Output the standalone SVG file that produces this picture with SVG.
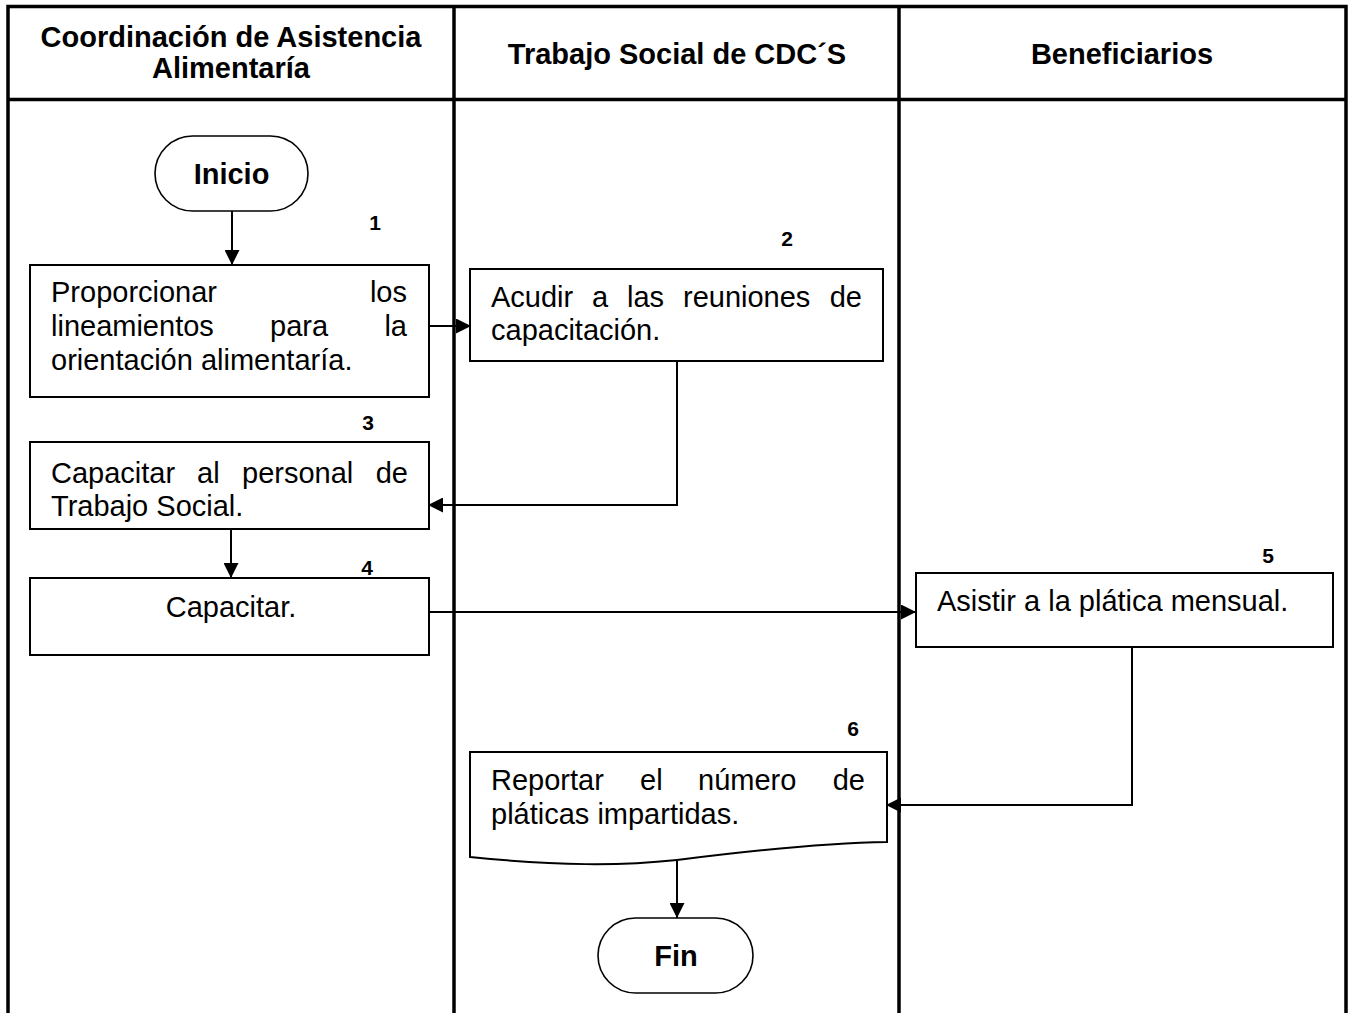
<svg xmlns="http://www.w3.org/2000/svg" width="1354" height="1013" viewBox="0 0 1354 1013">
<style>
.frame{stroke:#000;stroke-width:3.5;fill:none}
.box{stroke:#000;stroke-width:2;fill:#fff}
.term{stroke:#000;stroke-width:1.6;fill:#fff}
.conn{stroke:#000;stroke-width:2;fill:none}
.t{font-family:"Liberation Sans",Arial,sans-serif;font-size:29px;fill:#000}
.h{font-family:"Liberation Sans",Arial,sans-serif;font-size:29px;font-weight:bold;fill:#000;text-anchor:middle}
.n{font-family:"Liberation Sans",Arial,sans-serif;font-size:21px;font-weight:bold;fill:#000;text-anchor:middle}
.e{text-anchor:end}
.m{text-anchor:middle}
</style>
<defs>
<marker id="arr" viewBox="0 0 15 15" refX="15" refY="7.5" markerWidth="15" markerHeight="15" markerUnits="userSpaceOnUse" orient="auto">
<path d="M0,0 L15,7.5 L0,15 Z" fill="#000"/>
</marker>
</defs>
<rect width="1354" height="1013" fill="#fff"/>
<g id="frame">
<path class="frame" d="M8,1013 V6.5 H1346 V1013"/>
<line class="frame" x1="8" y1="99.5" x2="1346" y2="99.5"/>
<line class="frame" x1="454" y1="6.5" x2="454" y2="1013"/>
<line class="frame" x1="899" y1="6.5" x2="899" y2="1013"/>
</g>
<g id="headers">
<text class="h" x="231" y="47">Coordinación de Asistencia</text>
<text class="h" x="231" y="78">Alimentaría</text>
<text class="h" x="677" y="64">Trabajo Social de CDC´S</text>
<text class="h" x="1122" y="64">Beneficiarios</text>
</g>
<g id="connectors">
<line class="conn" x1="232" y1="211" x2="232" y2="265" marker-end="url(#arr)"/>
<line class="conn" x1="429" y1="326" x2="471" y2="326" marker-end="url(#arr)"/>
<polyline class="conn" points="677,361 677,505 428,505" marker-end="url(#arr)"/>
<line class="conn" x1="231" y1="529" x2="231" y2="578" marker-end="url(#arr)"/>
<line class="conn" x1="429" y1="612" x2="916" y2="612" marker-end="url(#arr)"/>
<polyline class="conn" points="1132,647 1132,805 886,805" marker-end="url(#arr)"/>
<line class="conn" x1="677" y1="861" x2="677" y2="918" marker-end="url(#arr)"/>
</g>
<g id="inicio">
<rect class="term" x="155" y="136" width="153" height="75" rx="37.5" ry="37.5"/>
<text class="h" x="231.5" y="184">Inicio</text>
</g>
<g id="step1">
<text class="n" x="375" y="230">1</text>
<rect class="box" x="30" y="265" width="399" height="132"/>
<text class="t" x="51" y="302">Proporcionar</text>
<text class="t e" x="407" y="302">los</text>
<text class="t" x="51" y="336">lineamientos</text>
<text class="t" x="270" y="336">para</text>
<text class="t e" x="407" y="336">la</text>
<text class="t" x="51" y="370">orientación alimentaría.</text>
</g>
<g id="step2">
<text class="n" x="787" y="246">2</text>
<rect class="box" x="470" y="269" width="413" height="92"/>
<text class="t" x="491" y="307">Acudir</text>
<text class="t" x="592" y="307">a</text>
<text class="t" x="627" y="307">las</text>
<text class="t" x="683" y="307">reuniones</text>
<text class="t e" x="862" y="307">de</text>
<text class="t" x="491" y="340">capacitación.</text>
</g>
<g id="step3">
<text class="n" x="368" y="430">3</text>
<rect class="box" x="30" y="442" width="399" height="87"/>
<text class="t" x="51" y="483">Capacitar</text>
<text class="t" x="197" y="483">al</text>
<text class="t" x="242" y="483">personal</text>
<text class="t e" x="408" y="483">de</text>
<text class="t" x="51" y="516">Trabajo Social.</text>
</g>
<g id="step4">
<text class="n" x="367" y="575">4</text>
<rect class="box" x="30" y="578" width="399" height="77"/>
<text class="t m" x="231" y="617">Capacitar.</text>
</g>
<g id="step5">
<text class="n" x="1268" y="563">5</text>
<rect class="box" x="916" y="573" width="417" height="74"/>
<text class="t" x="937" y="611">Asistir a la plática mensual.</text>
</g>
<g id="step6">
<text class="n" x="853" y="736">6</text>
<path class="box" d="M470,752 H887 V842 C820,843 740,852 677,860 C620,866 560,866 470,857 Z"/>
<text class="t" x="491" y="790">Reportar</text>
<text class="t" x="640" y="790">el</text>
<text class="t" x="698" y="790">número</text>
<text class="t e" x="865" y="790">de</text>
<text class="t" x="491" y="824">pláticas impartidas.</text>
</g>
<g id="fin">
<rect class="term" x="598" y="918" width="155" height="75" rx="37.5" ry="37.5"/>
<text class="h" x="676" y="966">Fin</text>
</g>
</svg>
